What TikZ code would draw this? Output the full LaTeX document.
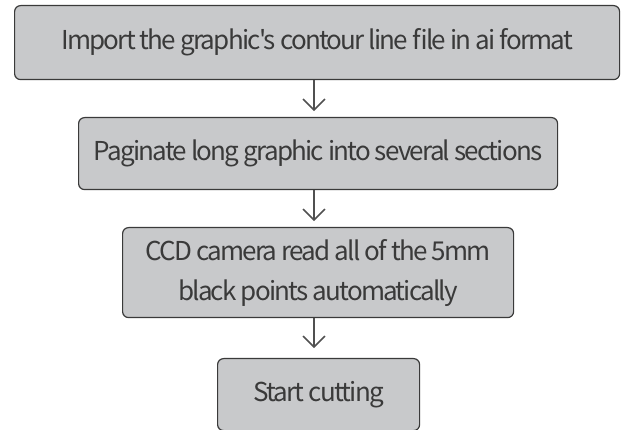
\documentclass[tikz,border=0pt]{standalone}
\usepackage{fontspec}
\setmainfont{Noto Sans CJK SC}[Ligatures=TeXOff,LetterSpace=-6.8]
\usetikzlibrary{arrows.meta}
\definecolor{boxfill}{HTML}{C8C9CB}
\definecolor{boxline}{HTML}{3A3A3A}
\definecolor{txt}{HTML}{3A3A3A}
\definecolor{arr}{HTML}{505050}
\begin{document}
\begin{tikzpicture}[x=1pt,y=-1pt,
  stepbox/.style={draw=boxline,line width=1.2pt,fill=boxfill,rounded corners=6pt,
    text=txt,font=\fontsize{26}{40}\selectfont,align=center,inner sep=0pt,anchor=north west},
  flow/.style={draw=arr,line width=1.6pt,-{Straight Barb[length=11pt,width=22pt,line width=1.6pt]}}]
\useasboundingbox (0,0) rectangle (624,430);
\node[stepbox,minimum width=605pt,minimum height=74pt] (a) at (14,5) {Import the graphic's contour line file in ai format};
\node[stepbox,minimum width=479pt,minimum height=72pt] (b) at (78,117) {Paginate long graphic into several sections};
\node[stepbox,minimum width=391pt,minimum height=90pt] (c) at (122,227) {CCD camera read all of the 5mm\\black points automatically};
\node[stepbox,minimum width=202pt,minimum height=72pt] (d) at (217,358) {Start cutting};
\draw[flow] (a.south -| 314,0) -- ++(0,31) coordinate (a2);
\draw[flow] (b.south -| 314,0) -- ++(0,31) coordinate (b2);
\draw[flow] (c.south -| 314,0) -- ++(0,30) coordinate (c2);
\end{tikzpicture}
\end{document}
